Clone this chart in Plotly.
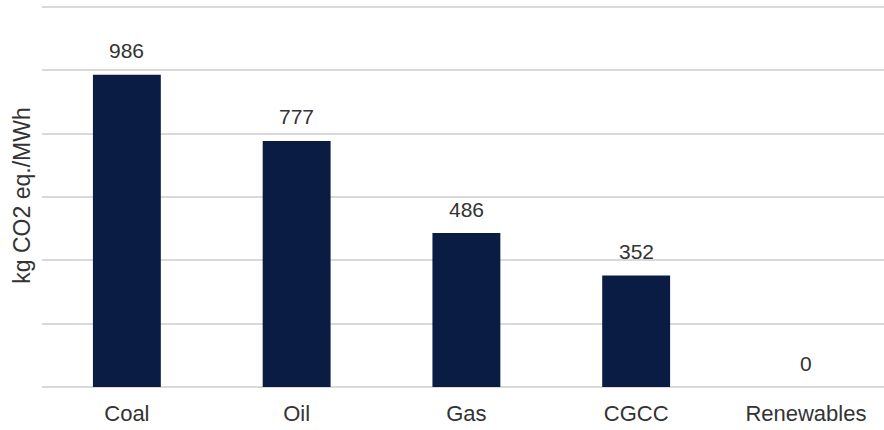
import plotly.graph_objects as go

# Life-cycle emissions by generation source
sources = ["Coal", "Oil", "Gas", "CGCC", "Renewables"]
emissions = [986, 777, 486, 352, 0]

BAR_COLOR = "#0b1c44"
TEXT_COLOR = "#333333"
GRID_COLOR = "#d9d9d9"
FONT = "Liberation Sans, Arial, sans-serif"

fig = go.Figure(
    go.Bar(
        x=sources,
        y=emissions,
        width=0.4,
        marker=dict(color=BAR_COLOR, line=dict(width=0)),
        hoverinfo="skip",
    )
)

# value labels sit a fixed distance above each bar top
for src, val in zip(sources, emissions):
    fig.add_annotation(
        x=src, y=val, text=str(val), showarrow=False,
        yanchor="middle", yshift=24,
        font=dict(family=FONT, size=21, color=TEXT_COLOR),
    )

fig.update_layout(
    width=884, height=430,
    margin=dict(l=42, r=0, t=4, b=43),
    paper_bgcolor="white", plot_bgcolor="white",
    showlegend=False,
    font=dict(family=FONT, size=22, color=TEXT_COLOR),
    bargap=0.6,
)
fig.update_xaxes(
    range=[-0.5, 4.46],
    showgrid=False, showline=False, ticks="",
    ticklabelstandoff=11,
    tickfont=dict(family=FONT, size=22, color=TEXT_COLOR),
)
fig.update_yaxes(
    range=[0, 1209.5],
    dtick=200, showticklabels=False, ticks="",
    showgrid=True, gridcolor=GRID_COLOR, gridwidth=1.5,
    zeroline=True, zerolinecolor=GRID_COLOR, zerolinewidth=1.5,
    title=dict(text="kg CO2 eq./MWh", standoff=3,
               font=dict(family=FONT, size=23, color=TEXT_COLOR)),
)

fig.write_html("out.html")
